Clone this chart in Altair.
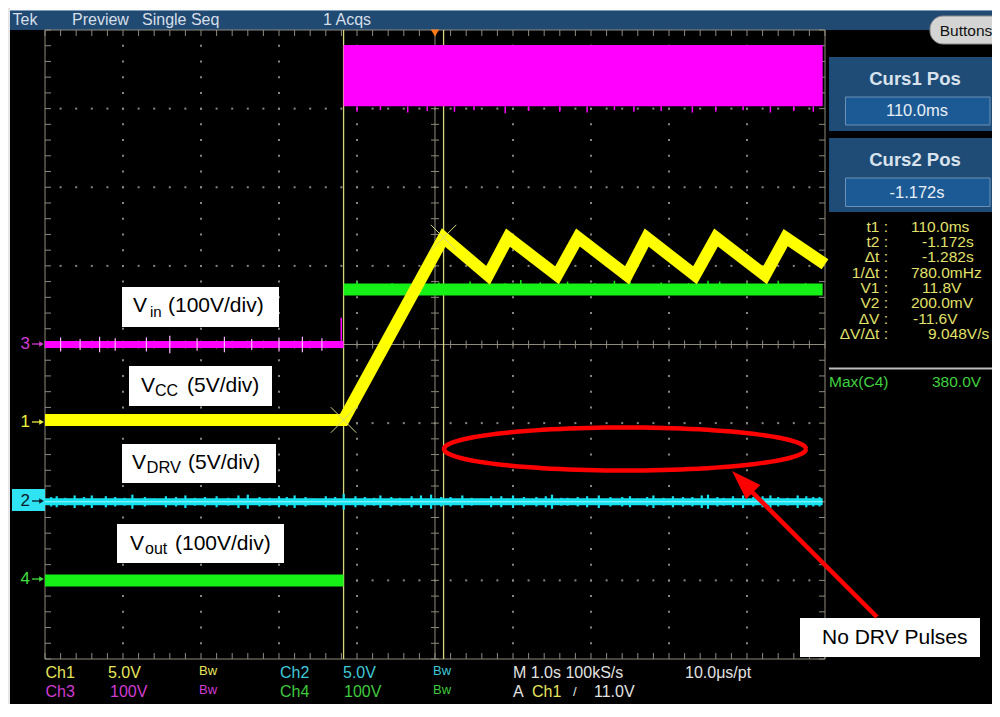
import altair as alt
import pandas as pd
import math

# ------------------------------------------------------------------
# Screen data
# time: 1 s/div, trigger at screen centre  -> t in [-5 s, +5 s]
# ------------------------------------------------------------------
t_curs2 = -1.172          # Curs2 Pos
t_curs1 = 0.110           # Curs1 Pos

# ground marker of each channel (divisions above the bottom graticule line)
ch_ground = {"Ch1": 3.0, "Ch2": 2.0, "Ch3": 4.0, "Ch4": 1.0}
ch_vdiv = {"Ch1": 5.0, "Ch2": 5.0, "Ch3": 100.0, "Ch4": 100.0}

# Ch1  VCC (yellow)
vcc_t = [-5.0, -1.172, 0.110, 0.68, 0.936, 1.564, 1.833, 2.462, 2.714, 3.333, 3.603, 4.231, 4.496, 5.0]
vcc_v = [0.2, 0.2, 11.8, 9.4, 11.8, 9.4, 11.8, 9.4, 11.8, 9.4, 11.8, 9.4, 11.8, 10.1]

# Ch3  Vin (magenta): off, then a rectified band
vin_off_t = [-5.0, -1.172]
vin_off_v = [0.0, 0.0]
vin_band_t = [-1.172, 4.97]
vin_band_lo = 303.0
vin_band_hi = 381.0

# Ch4  Vout (green)
vout_pre_t = [-5.0, -1.172]
vout_pre_v = [0.0, 0.0]
vout_post_t = [-1.172, 4.97]
vout_post_v = [370.0, 370.0]

# Ch2  VDRV (cyan) - flat, no pulses
vdrv_t = [-5.0, 4.97]
vdrv_v = [0.0, 0.0]

# noise spikes
cyan_sp_t = [-4.92, -4.85, -4.74, -4.62, -4.5, -4.4, -4.22, -4.1, -3.98, -3.88, -3.72, -3.6, -3.45,
             -3.32, -3.2, -3.08, -2.95, -2.8, -2.65, -2.52, -2.4, -2.25, -2.12, -2.0, -1.9,
             -1.8, -1.66, -1.55, -1.4, -1.28, -1.17, -1.02, -0.9, -0.78, -0.7, -0.56, -0.45, -0.3,
             -0.18, -0.05, 0.08, 0.2, 0.35, 0.47, 0.6, 0.72, 0.85, 1.0, 1.14, 1.3, 1.42, 1.5, 1.62,
             1.7, 1.83, 1.95, 2.1, 2.25, 2.4, 2.5, 2.6, 2.72, 2.8, 2.93, 3.05, 3.18, 3.3, 3.42,
             3.5, 3.62, 3.7, 3.82, 3.95, 4.08, 4.2, 4.3, 4.4, 4.52, 4.65, 4.76, 4.85, 4.93]
cyan_sp_a = [0.3, 0.35, 0.25, 0.4, 0.3, 0.4, 0.35, 0.3, 0.25, 0.45, 0.3, 0.2, 0.35,
             0.3, 0.4, 0.25, 0.3, 0.35, 0.25, 0.4, 0.45, 0.3, 0.25, 0.35, 0.3,
             0.4, 0.3, 0.2, 0.35, 0.3, 0.5, 0.35, 0.3, 0.25, 0.4, 0.3, 0.25, 0.35,
             0.4, 0.45, 0.3, 0.3, 0.4, 0.25, 0.2, 0.35, 0.35, 0.4, 0.3, 0.3, 0.35, 0.45, 0.25,
             0.25, 0.3, 0.35, 0.4, 0.3, 0.3, 0.35, 0.2, 0.3, 0.4, 0.25, 0.35, 0.3, 0.3, 0.4,
             0.45, 0.3, 0.25, 0.35, 0.4, 0.3, 0.35, 0.4, 0.3, 0.25, 0.4, 0.35, 0.3, 0.3]
green_sp_t = [-1.0, -0.55, -0.2, 0.05, 0.45, 0.9, 1.1, 1.35, 1.7, 2.05, 2.3, 2.5, 2.9, 3.25, 3.5, 3.65, 4.0, 4.4, 4.75]
green_sp_hi = [380, 378, 381, 379, 380, 378, 382, 379, 380, 378, 381, 380, 379, 378, 381, 380, 379, 381, 378]
mag_sp_t = [-1.0, -0.7, -0.35, -0.1, 0.25, 0.5, 0.9, 1.2, 1.6, 1.95, 2.3, 2.55, 2.9, 3.3, 3.6, 3.95, 4.3, 4.6, 4.85]
mag_sp_lo = [296, 298, 295, 297, 296, 298, 294, 297, 296, 295, 298, 296, 297, 295, 296, 298, 295, 297, 296]
mag_pre_t = [-4.8, -4.55, -4.3, -4.1, -3.7, -3.4, -3.05, -2.7, -2.35, -2.0, -1.7, -1.45]
mag_pre_a = [9, 7, 10, 8, 9, 11, 8, 10, 7, 9, 10, 8]

# readouts
readout_labels = ["t1 :", "t2 :", "\u0394t :", "1/\u0394t :", "V1 :", "V2 :", "\u0394V :", "\u0394V/\u0394t :"]
readout_values = ["110.0ms", "-1.172s", "-1.282s", "780.0mHz", "11.8V", "200.0mV", "-11.6V", "9.048V/s"]
curs_titles = ["Curs1 Pos", "Curs2 Pos"]
curs_values = ["110.0ms", "-1.172s"]
title_words = ["Tek", "Preview", "Single Seq", "1 Acqs"]
trace_labels = [("V", "in", "(100V/div)"), ("V", "CC", "(5V/div)"), ("V", "DRV", "(5V/div)"), ("V", "out", "(100V/div)")]
annotation = "No DRV Pulses"

# ------------------------------------------------------------------
# Layout / scales (graticule: 10 x 8 divisions)
# ------------------------------------------------------------------
PX_X, PX_Y = 78.0, 78.625
W, H = 984, 696
XMIN = (8 - 45) / PX_X
XMAX = XMIN + W / PX_X
YMAX = (659 - 8) / PX_Y
YMIN = YMAX - H / PX_Y


def X(px):
    return (px - 45) / PX_X


def Y(py):
    return (659 - py) / PX_Y


XS = alt.Scale(domain=[XMIN, XMAX], nice=False, zero=False)
YS = alt.Scale(domain=[YMIN, YMAX], nice=False, zero=False)


def tx(t):
    return 5.0 + t


def vy(ch, v):
    return ch_ground[ch] + v / ch_vdiv[ch]


def ex():
    return alt.X("x:Q", scale=XS, axis=None)


def ey():
    return alt.Y("y:Q", scale=YS, axis=None)


def rects(rows, **mk):
    df = pd.DataFrame(rows, columns=["x", "x2", "y", "y2"])
    return alt.Chart(df).mark_rect(**mk).encode(x=ex(), x2="x2:Q", y=ey(), y2="y2:Q")


def rules(rows, **mk):
    df = pd.DataFrame(rows, columns=["x", "y", "x2", "y2"])
    return alt.Chart(df).mark_rule(**mk).encode(x=ex(), y=ey(), x2="x2:Q", y2="y2:Q")


def line(xs, ys, **mk):
    df = pd.DataFrame({"x": xs, "y": ys, "i": list(range(len(xs)))})
    return alt.Chart(df).mark_line(**mk).encode(x=ex(), y=ey(), order="i:Q")


def points(rows, **mk):
    df = pd.DataFrame(rows, columns=["x", "y"])
    return alt.Chart(df).mark_point(**mk).encode(x=ex(), y=ey())


FONT = "Liberation Sans"


def texts(rows, align="left", baseline="middle", **mk):
    df = pd.DataFrame(rows, columns=["x", "y", "t", "s", "c"])
    return alt.Chart(df).mark_text(align=align, baseline=baseline, font=FONT, **mk).encode(
        x=ex(), y=ey(), text="t:N",
        size=alt.Size("s:Q", scale=None, legend=None),
        color=alt.Color("c:N", scale=None, legend=None))


layers = []

# ---------------- frame ----------------
layers.append(rects([(X(8), X(10), Y(8), Y(717))], color="#e6e6e6"))
layers.append(rects([(X(10), X(1002), Y(30), Y(717))], color="#000000"))
layers.append(rects([(X(10), X(1002), Y(10), Y(30))], color="#214a72"))
layers.append(rules([(X(10), Y(10.5), X(1002), Y(10.5))], color="#7f9cba", strokeWidth=1))
TT = "#d6dfe9"
layers.append(texts([(X(12.5), Y(20), title_words[0], 16, TT),
                     (X(72), Y(20), title_words[1], 16, TT),
                     (X(142), Y(20), title_words[2], 16, TT),
                     (X(323), Y(20), title_words[3], 16, TT)]))
# Buttons pill
layers.append(rects([(X(930), X(1004), Y(16), Y(44))], color="#d4d4d4", stroke="#8a8a8a",
                    strokeWidth=1, cornerRadius=13))
layers.append(texts([(X(966), Y(31), "Buttons", 15.5, "#111111")], align="center"))

# cursor panels
layers.append(rects([(X(829), X(1004), Y(57), Y(131)), (X(829), X(1004), Y(138), Y(212))], color="#1f4c77"))
layers.append(rects([(X(845.5), X(990), Y(97), Y(125)), (X(845.5), X(990), Y(178), Y(206.5))],
                    color="#1c5a96", stroke="#6a90b6", strokeWidth=1))
layers.append(texts([(X(915), Y(78.5), curs_titles[0], 18.5, "#d9e3ed"),
                     (X(915), Y(159.5), curs_titles[1], 18.5, "#d9e3ed")], align="center", fontWeight="bold"))
layers.append(texts([(X(917), Y(111), curs_values[0], 16.5, "#e9eff5"),
                     (X(917), Y(192.5), curs_values[1], 16.5, "#e9eff5")], align="center"))

RY = "#e2e26a"
ro_y = [227, 242, 257, 272.5, 288, 303, 318.5, 334]
ro_vx = [911, 922, 922, 911, 922, 911, 913, 928]
layers.append(texts([(X(888), Y(yy), lab, 15.5, RY) for yy, lab in zip(ro_y, readout_labels)], align="right"))
layers.append(texts([(X(vx), Y(yy), val, 15.5, RY) for yy, vx, val in zip(ro_y, ro_vx, readout_values)]))
layers.append(rules([(X(829), Y(368.5), X(1004), Y(368.5))], color="#bdbdbd", strokeWidth=2))
GT = "#3fd23f"
layers.append(texts([(X(829), Y(381.5), "Max(C4)", 15.5, GT), (X(932), Y(381.5), "380.0V", 15.5, GT)]))

# bottom readouts
C1, C2, C3, C4, WT = "#e6e65c", "#3fc9d9", "#d23cd2", "#3fc93f", "#e2e2e2"
r1, r2 = Y(673), Y(692)
FS = 16
layers.append(texts([
    (X(45.5), r1, "Ch1", FS, C1), (X(108), r1, "5.0V", FS, C1), (X(199), r1 + 0.02, "Bw", 13, C1),
    (X(280), r1, "Ch2", FS, C2), (X(343), r1, "5.0V", FS, C2), (X(433), r1 + 0.02, "Bw", 13, C2),
    (X(513), r1, "M 1.0s 100kS/s", FS, WT), (X(685), r1, "10.0\u03bcs/pt", FS, WT),
    (X(45.5), r2, "Ch3", FS, C3), (X(110), r2, "100V", FS, C3), (X(199), r2 + 0.02, "Bw", 13, C3),
    (X(280), r2, "Ch4", FS, C4), (X(344), r2, "100V", FS, C4), (X(433), r2 + 0.02, "Bw", 13, C4),
    (X(513), r2, "A", FS, WT), (X(532), r2, "Ch1", FS, C1), (X(573), r2, "/", 13, WT),
    (X(594), r2, "11.0V", FS, WT)]))

# ---------------- graticule ----------------
GC = "#8e8a7c"
dots = []
for xd in [1, 2, 3, 4, 6, 7, 8, 9]:
    for j in range(1, 40):
        dots.append((xd, j * 0.2))
for yd in [1, 2, 3, 5, 6, 7]:
    for i in range(1, 50):
        dots.append((i * 0.2, yd))
layers.append(points(dots, shape="square", filled=True, size=4, color="#86867e", opacity=1))

tk = []
ex6, ey6 = 6 / PX_X, 6 / PX_Y
ex4, ey4 = 4 / PX_X, 4 / PX_Y
for i in range(51):
    xv = i * 0.2
    tk.append((xv, 8, xv, 8 - ey6))
    tk.append((xv, 0, xv, ey6))
    tk.append((xv, 4 - ey4, xv, 4 + ey4))
for j in range(41):
    yv = j * 0.2
    tk.append((0, yv, ex6, yv))
    tk.append((10 - ex6, yv, 10, yv))
    tk.append((5 - ex4, yv, 5 + ex4, yv))
layers.append(rules(tk, color=GC, strokeWidth=1))
layers.append(rules([(0, 0, 10, 0), (0, 8, 10, 8), (0, 0, 0, 8), (10, 0, 10, 8),
                     (5, 0, 5, 8), (0, 4, 10, 4)], color=GC, strokeWidth=1))

# ---------------- cursors ----------------
CUR = "#d6d67c"
layers.append(rules([(tx(t_curs2), 0, tx(t_curs2), 8), (tx(t_curs1), 0, tx(t_curs1), 8)],
                    color=CUR, strokeWidth=1.3))
layers.append(points([(tx(0.0), Y(33))], shape="triangle-down", filled=True, size=70,
                     color="#ff7a1a", opacity=1))

# ---------------- traces ----------------
MAG, YEL, GRN, CYN = "#ff00ff", "#ffff00", "#16f016", "#14e2ef"
# Vin
layers.append(line([tx(t) for t in vin_off_t], [vy("Ch3", v) for v in vin_off_v], color=MAG, strokeWidth=7))
layers.append(rules([(tx(t), vy("Ch3", -a), tx(t), vy("Ch3", a)) for t, a in zip(mag_pre_t, mag_pre_a)],
                    color="#ffb8ff", strokeWidth=1.2))
layers.append(rules([(tx(t_curs2) - 0.03, vy("Ch3", 0), tx(t_curs2) - 0.03, vy("Ch3", 34))],
                    color=MAG, strokeWidth=1.5))
layers.append(rects([(tx(vin_band_t[0]), tx(vin_band_t[1]), vy("Ch3", vin_band_lo), vy("Ch3", vin_band_hi))],
                    color=MAG, opacity=1))
layers.append(rules([(tx(t), vy("Ch3", lo), tx(t), vy("Ch3", vin_band_lo)) for t, lo in zip(mag_sp_t, mag_sp_lo)],
                    color=MAG, strokeWidth=1.5))
# Vout
layers.append(line([tx(t) for t in vout_pre_t], [vy("Ch4", v) for v in vout_pre_v], color=GRN, strokeWidth=12))
layers.append(line([tx(t) for t in vout_post_t], [vy("Ch4", v) for v in vout_post_v], color=GRN, strokeWidth=12))
layers.append(rules([(tx(t), vy("Ch4", 370), tx(t), vy("Ch4", hi)) for t, hi in zip(green_sp_t, green_sp_hi)],
                    color=GRN, strokeWidth=1.5))
# VDRV
layers.append(line([tx(t) for t in vdrv_t], [vy("Ch2", v) for v in vdrv_v], color=CYN, strokeWidth=7))
layers.append(rules([(tx(t), vy("Ch2", -a), tx(t), vy("Ch2", a)) for t, a in zip(cyan_sp_t, cyan_sp_a)],
                    color=CYN, strokeWidth=2.2))
layers.append(line([tx(t) for t in vdrv_t], [vy("Ch2", v) for v in vdrv_v], color="#9ff6ff", strokeWidth=1.2))
# VCC
layers.append(line([tx(t) for t in vcc_t], [vy("Ch1", v) for v in vcc_v], color=YEL, strokeWidth=12,
                   strokeJoin="miter"))
# cursor crossings
layers.append(points([(tx(t_curs2), vy("Ch1", 0.2)), (tx(t_curs1), vy("Ch1", 11.8))],
                     shape="M-1,-1L1,1M-1,1L1,-1", filled=False, size=650, color=CUR, strokeWidth=1, opacity=1))

# ---------------- channel markers ----------------
layers.append(rects([(X(12), X(45), Y(489), Y(511))], color="#2fe3f2"))
mk_y = [("3", 344, C3), ("1", 422, "#f0f040"), ("2", 501, "#0a1a28"), ("4", 579, "#3fe03f")]
layers.append(texts([(X(30), Y(yy), lab, 17, col) for lab, yy, col in mk_y], align="right"))
for lab, yy, col in mk_y:
    layers.append(rules([(X(32), Y(yy), X(40), Y(yy))], color=col, strokeWidth=1.3))
    layers.append(points([(X(41.5), Y(yy))], shape="triangle-right", filled=True, size=28, color=col, opacity=1))

# ---------------- trace labels ----------------
layers.append(rects([(X(122), X(279), Y(287), Y(327)), (X(129), X(272), Y(366), Y(406)),
                     (X(122), X(276), Y(444), Y(483)), (X(117), X(284), Y(524), Y(563)),
                     (X(800), X(980), Y(618), Y(657))], color="#ffffff"))
# (V x, V baseline, sub x, sub baseline, rest x, sub size)
base = [(133, 312, 150, 317, 168, 15), (141, 392, 155, 395.5, 187, 16), (132, 468.5, 146.5, 473.3, 188, 16.5),
        (130, 550, 145, 553.5, 175, 16)]
big, sub = [], []
for (v, s, rest), (vx, vyy, sx, sy, rx, ss) in zip(trace_labels, base):
    big.append((X(vx), Y(vyy), v, 21, "#000000"))
    big.append((X(rx), Y(vyy), rest, 21, "#000000"))
    sub.append((X(sx), Y(sy), s, ss, "#000000"))
big.append((X(822), Y(643.5), annotation, 21, "#000000"))
layers.append(texts(big, baseline="alphabetic"))
layers.append(texts(sub, baseline="alphabetic"))

# ---------------- red annotation ----------------
ecx, ecy, erx, ery = 625, 449, 181, 21.5
ell_x = [X(ecx + erx * math.cos(2 * math.pi * k / 120)) for k in range(121)]
ell_y = [Y(ecy + ery * math.sin(2 * math.pi * k / 120)) for k in range(121)]
layers.append(line(ell_x, ell_y, color="#ff0000", strokeWidth=4.5))
layers.append(rules([(X(877), Y(617), X(745), Y(485))], color="#ff0000", strokeWidth=4.5))
layers.append(points([(X(742.6), Y(481.6))], shape="M0,-1L0.67,1L-0.67,1Z", filled=True, size=900,
                     angle=315, color="#ff0000", opacity=1))

chart = alt.layer(*layers).properties(
    width=W, height=H,
    autosize=alt.AutoSizeParams(type="none"),
    padding=0,
    background="#ffffff",
).configure_view(stroke=None)

chart.save("out.html", embed_options={"renderer": "svg", "actions": False})
